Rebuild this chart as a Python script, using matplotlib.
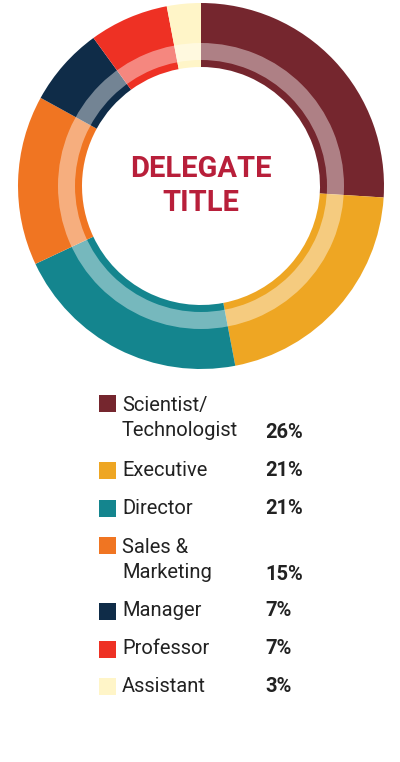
import matplotlib
matplotlib.use("Agg")
import matplotlib.pyplot as plt
from matplotlib.patches import Wedge, Circle

labels = ["Scientist/\nTechnologist", "Executive", "Director", "Sales &\nMarketing", "Manager", "Professor", "Assistant"]
values = [26, 21, 21, 15, 7, 7, 3]
colors = ["#75262e", "#eea623", "#14858e", "#f07522", "#0f2c48", "#ee3124", "#fff5c8"]

plt.rcParams['font.family'] = ['Roboto', 'DejaVu Sans']
fig = plt.figure(figsize=(4, 7.62), dpi=100)
ax = fig.add_axes([0, 0, 1, 1])
ax.set_xlim(0, 400); ax.set_ylim(762, 0); ax.axis('off')

cx, cy = 201, 186
ax2 = fig.add_axes([(cx-183)/400, 1-(cy+183)/762, 366/400, 366/762])
ax2.pie(values, colors=colors, startangle=90, counterclock=False, radius=1,
        wedgeprops=dict(width=1-119/183, linewidth=0))
ax2.add_patch(Wedge((0, 0), 143/183, 0, 360, width=17/183, facecolor='white', alpha=0.42, linewidth=0))
ax2.set_xlim(-1, 1); ax2.set_ylim(-1, 1); ax2.set_aspect('equal'); ax2.axis('off')
ax2.text(0, 0, "DELEGATE\nTITLE", ha='center', va='center', color='#b81f3a',
         fontsize=21, fontweight='bold', linespacing=1.25)

ys = [418, 470, 508, 560, 611, 649, 686]
for lab, v, c, y in zip(labels, values, colors, ys):
    ny = lab.count("\n")
    top = y - 15*ny
    ax.add_patch(plt.Rectangle((99, top-8), 17, 17, facecolor=c, linewidth=0))
    ax.text(122, y, lab, ha='left', va='center', fontsize=14.5, color='#222222', linespacing=1.45)
    ax.text(265, y+15*ny, f"{v}%", ha='left', va='center', fontsize=14.5, fontweight='bold', color='#222222')

fig.savefig("out.png", dpi=100)
